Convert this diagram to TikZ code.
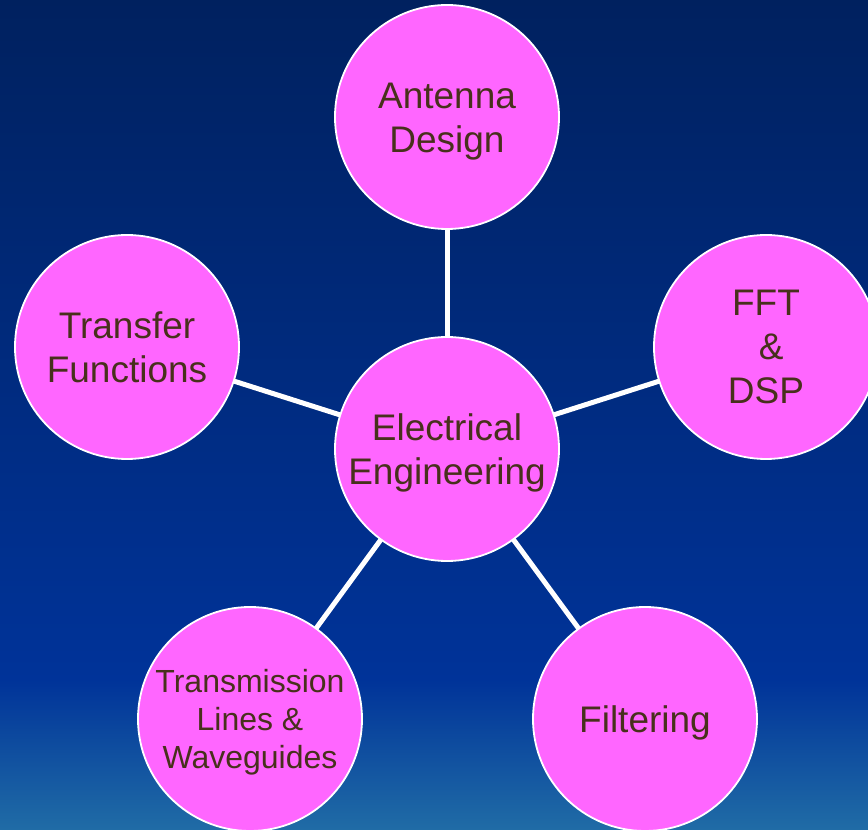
\documentclass[tikz,border=0pt]{standalone}
\usepackage{fontspec}
\setmainfont{Liberation Sans}
\definecolor{bgtop}{RGB}{0,33,95}
\definecolor{bgmid}{RGB}{0,51,153}
\definecolor{bgbot}{RGB}{32,108,166}
\definecolor{pinkfill}{RGB}{255,102,255}
\definecolor{txtbrown}{RGB}{72,48,28}
\pgfdeclarelayer{bglayer}
\pgfdeclarelayer{links}
\pgfsetlayers{bglayer,links,main}
\newcommand{\bigstrut}{\rule{0pt}{34pt}}
\newcommand{\smallstrut}{\rule{0pt}{30pt}}
\tikzset{
  topic/.style={circle, draw=white, line width=1.8pt, fill=pinkfill, minimum size=224pt, inner sep=0pt, align=center, text=txtbrown, font=\fontsize{37}{44}\selectfont},
  smalltopic/.style={topic, font=\fontsize{32}{38}\selectfont},
  link/.style={white, line width=5pt}
}
\begin{document}
\begin{tikzpicture}[x=1pt,y=1pt]
\useasboundingbox (0,0) rectangle (868,830);
\clip (0,0) rectangle (868,830);
\node[topic] (ee) at (447,381) {\bigstrut Electrical\\Engineering};
\node[topic] (ant) at (447,713) {\bigstrut Antenna\\Design};
\node[topic] (fft) at (766,483) {FFT\\\ \&\\DSP};
\node[topic] (tf) at (127,483) {Transfer\\Functions};
\node[smalltopic] (tl) at (250,111) {\smallstrut Transmission\\Lines \&\\Waveguides};
\node[topic] (filt) at (645,111) {\bigstrut Filtering};
\begin{pgfonlayer}{links}
\draw[link] (ee.center) -- (ant.center);
\draw[link] (ee.center) -- (fft.center);
\draw[link] (ee.center) -- (tf.center);
\draw[link] (ee.center) -- (tl.center);
\draw[link] (ee.center) -- (filt.center);
\end{pgfonlayer}
\begin{pgfonlayer}{bglayer}
\shade[top color=bgtop, bottom color=bgmid] (0,150) rectangle (868,830);
\shade[top color=bgmid, bottom color=bgbot] (0,0) rectangle (868,150.5);
\end{pgfonlayer}
\end{tikzpicture}
\end{document}
